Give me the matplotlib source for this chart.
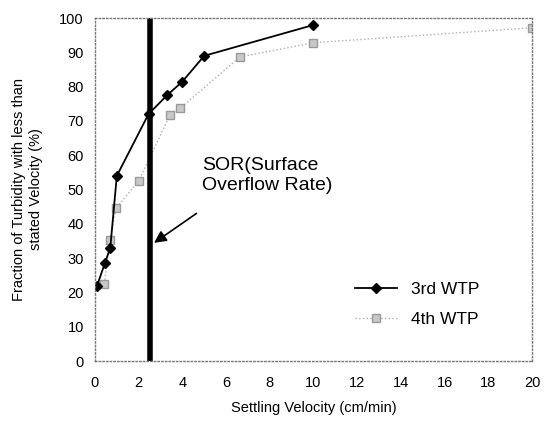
import matplotlib.pyplot as plt

plt.rcParams['font.family'] = ['Liberation Sans', 'DejaVu Sans']

# 3rd WTP
x_3rd = [0.1, 0.45, 0.7, 1.0, 2.45, 3.3, 4.0, 5.0, 10.0]
y_3rd = [22, 28.5, 33, 54, 72, 77.5, 81.5, 89, 98]

# 4th WTP
x_4th = [0.43, 0.68, 0.96, 2.0, 3.43, 3.9, 6.64, 10.0, 20.0]
y_4th = [22.6, 35.3, 44.5, 52.5, 71.7, 73.7, 88.7, 92.8, 97.2]

sor = 2.5

fig = plt.figure(figsize=(5.49, 4.21), dpi=100)
ax = fig.add_axes([0.173, 0.1425, 0.796, 0.8145])

ax.plot(x_4th, y_4th, color='#b0b0b0', linestyle=':', linewidth=1.0,
        marker='s', markersize=6, markerfacecolor='#c8c8c8',
        markeredgecolor='#999999', label='4th WTP')
ax.plot(x_3rd, y_3rd, color='black', linewidth=1.3,
        marker='D', markersize=5.5, label='3rd WTP')

ax.axvline(sor, color='black', linewidth=4)

ax.annotate('', xy=(2.6, 34), xytext=(4.75, 43.5),
            arrowprops=dict(arrowstyle='-|>', color='black', lw=1.2,
                            mutation_scale=18))
ax.text(4.9, 54, 'SOR(Surface\nOverflow Rate)', fontsize=14,
        va='center', ha='left', linespacing=1.25)

ax.set_xlim(0, 20)
ax.set_ylim(0, 100)
ax.set_xticks(range(0, 21, 2))
ax.set_yticks(range(0, 101, 10))
ax.tick_params(axis='x', length=0, labelsize=10.5, pad=11)
ax.tick_params(axis='y', length=0, labelsize=10.5, pad=8)
for s in ax.spines.values():
    s.set_linestyle(':')
    s.set_color('#777777')
    s.set_linewidth(1)

ax.set_xlabel('Settling Velocity (cm/min)', fontsize=10.5, labelpad=8)
ax.set_ylabel('Fraction of Turbidity with less than\nstated Velocity (%)',
              fontsize=10.5, labelpad=12)

h, l = ax.get_legend_handles_labels()
ax.legend(h[::-1], l[::-1], loc='center left', bbox_to_anchor=(0.595, 0.165),
          frameon=False, fontsize=12.5, handlelength=2.4, handletextpad=0.8,
          labelspacing=0.9, borderpad=0, borderaxespad=0)

fig.savefig('out.png', dpi=100)
